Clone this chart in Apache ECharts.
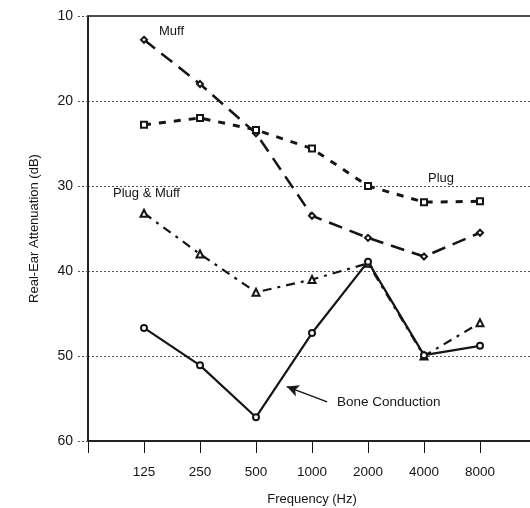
<!DOCTYPE html>
<html>
  <head>
    <meta charset="utf-8" />
    <title>Real-ear attenuation</title>
    <style>
      html, body { margin: 0; padding: 0; background: #fff; }
      #main { width: 530px; height: 508px; }
    </style>
  </head>
  <body>
    <script src="https://cdn.jsdelivr.net/npm/echarts@6/dist/echarts.min.js"></script>
    <div id="main"></div>
    <script>
      // frequency bands (Hz), drawn at equal octave spacing
      var frequencies = ["125", "250", "500", "1000", "2000", "4000", "8000"];
      var yTicks = [10, 20, 30, 40, 50, 60];

      // attenuation in dB
      var muff = [12.8, 18.0, 23.8, 33.5, 36.1, 38.3, 35.5];
      var plug = [22.8, 22.0, 23.4, 25.6, 30.0, 31.9, 31.8];
      var plugAndMuff = [33.2, 38.0, 42.5, 41.0, 39.1, 50.0, 46.1];
      var boneConduction = [46.7, 51.1, 57.2, 47.3, 38.9, 49.9, 48.8];

      function pairs(values) {
        return values.map(function (v, i) { return [i, v]; });
      }

      var ink = "#151515";
      var font = "'Liberation Sans', Arial, sans-serif";

      var chart = echarts.init(document.getElementById("main"));

      var option = {
        animation: false,
        backgroundColor: "#fff",
        textStyle: { fontFamily: font, color: ink },
        grid: {
          left: 88,
          width: 448,
          top: 16,
          bottom: 67,
          outerBoundsMode: "none",
          show: true,
          borderColor: ink,
          borderWidth: 1.5
        },
        xAxis: {
          type: "value",
          min: -1,
          max: 7,
          interval: 1,
          name: "Frequency (Hz)",
          nameLocation: "middle",
          nameGap: 52,
          nameTextStyle: { fontSize: 13, color: ink, fontFamily: font },
          axisLine: { lineStyle: { color: ink, width: 1.5 } },
          axisTick: { length: 12, lineStyle: { color: ink, width: 1 } },
          axisLabel: {
            margin: 24,
            fontSize: 13.5,
            color: ink,
            fontFamily: font,
            formatter: function (v) {
              return frequencies[v] !== undefined ? frequencies[v] : "";
            }
          },
          splitLine: { show: false }
        },
        yAxis: {
          type: "value",
          inverse: true,
          min: yTicks[0],
          max: yTicks[yTicks.length - 1],
          interval: 10,
          name: "Real-Ear Attenuation (dB)",
          nameLocation: "middle",
          nameGap: 47,
          nameTextStyle: { fontSize: 13, color: ink, fontFamily: font },
          axisLine: { show: true, onZero: false, lineStyle: { color: ink, width: 1.5 } },
          axisTick: {
            show: true,
            length: 10,
            lineStyle: { color: "#555", width: 1, type: [2, 2] }
          },
          axisLabel: { margin: 15, fontSize: 14, color: ink, fontFamily: font },
          splitLine: {
            show: true,
            showMinLine: false,
            showMaxLine: false,
            lineStyle: { color: "#555", width: 1, type: [2, 2] }
          }
        },
        graphic: [
          { type: "text", left: 159, top: 25, style: { text: "Muff", font: "13px " + font, fill: ink } },
          { type: "text", left: 428, top: 172, style: { text: "Plug", font: "13px " + font, fill: ink } },
          { type: "text", left: 113, top: 187, style: { text: "Plug & Muff", font: "13px " + font, fill: ink } },
          { type: "text", left: 337, top: 395, style: { text: "Bone Conduction", font: "13.5px " + font, fill: ink } }
        ],
        series: [
          {
            name: "Muff",
            type: "line",
            data: pairs(muff),
            symbol: "emptyDiamond",
            symbolSize: 6,
            showAllSymbol: true,
            lineStyle: { color: ink, width: 2.5, type: [14, 8] },
            itemStyle: { color: ink, borderColor: ink, borderWidth: 1.5 },
            z: 3
          },
          {
            name: "Plug",
            type: "line",
            data: pairs(plug),
            symbol: "emptyRect",
            symbolSize: 6,
            showAllSymbol: true,
            lineStyle: { color: ink, width: 3, type: [7, 8] },
            itemStyle: { color: ink, borderColor: ink, borderWidth: 2 },
            z: 3
          },
          {
            name: "Plug & Muff",
            type: "line",
            data: pairs(plugAndMuff),
            symbol: "emptyTriangle",
            symbolSize: 7,
            showAllSymbol: true,
            lineStyle: { color: ink, width: 2.2, type: [9, 6, 3, 6] },
            itemStyle: { color: ink, borderColor: ink, borderWidth: 1.5 },
            z: 3
          },
          {
            name: "Bone Conduction",
            type: "line",
            data: pairs(boneConduction),
            symbol: "emptyCircle",
            symbolSize: 6,
            showAllSymbol: true,
            lineStyle: { color: ink, width: 2.2, type: "solid" },
            itemStyle: { color: ink, borderColor: ink, borderWidth: 2 },
            z: 4,
            markLine: {
              silent: true,
              symbol: ["none", "arrow"],
              symbolSize: [9, 12],
              label: { show: false },
              lineStyle: { color: ink, width: 1.5, type: "solid" },
              data: [[{ coord: [3.27, 55.4] }, { coord: [2.55, 53.6] }]]
            }
          }
        ]
      };

      chart.setOption(option);
    </script>
  </body>
</html>
